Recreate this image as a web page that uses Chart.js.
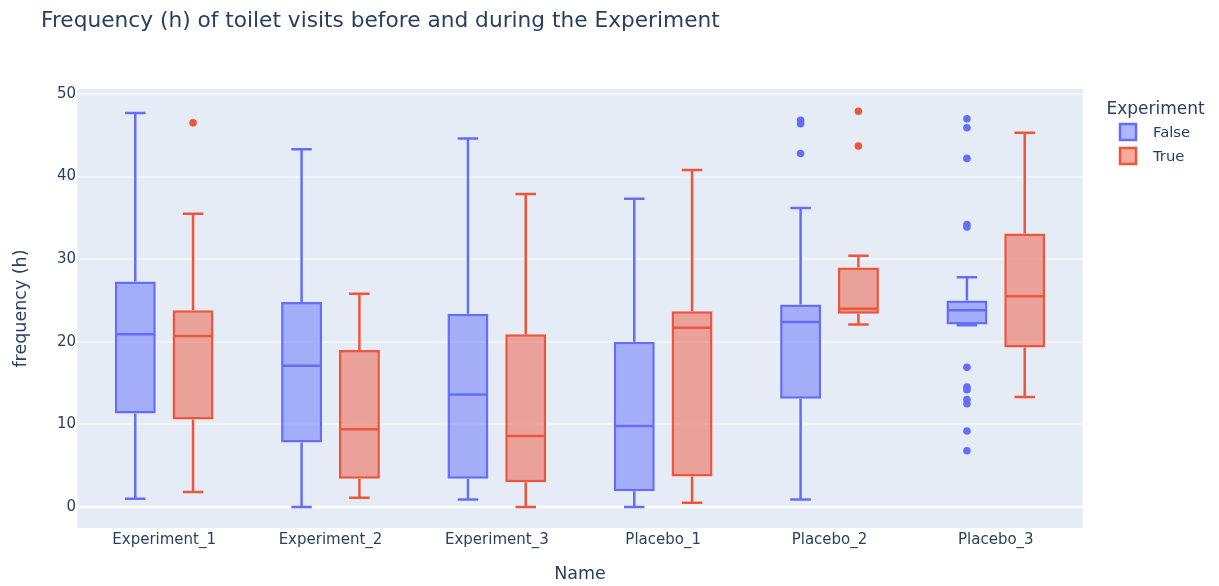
<!DOCTYPE html>
<html>
<head>
<meta charset="utf-8">
<title>Frequency (h) of toilet visits</title>
<script src="https://cdn.jsdelivr.net/npm/chart.js@4.4.1/dist/chart.umd.min.js"></script>
<style>
  html, body { margin: 0; padding: 0; background: #ffffff; }
  canvas { display: block; }
</style>
</head>
<body>
<canvas id="chart" width="1219" height="586"></canvas>
<script>
// Groups along the x axis
const categories = ['Experiment_1', 'Experiment_2', 'Experiment_3', 'Placebo_1', 'Placebo_2', 'Placebo_3'];

// Box statistics for Experiment = False
const lowerFalse  = [1.0, 0.0, 0.9, 0.0, 0.9, 22.0];
const q1False     = [11.3, 7.8, 3.4, 1.9, 13.1, 22.1];
const medianFalse = [20.9, 17.1, 13.6, 9.8, 22.4, 23.8];
const q3False     = [27.3, 24.8, 23.4, 20.0, 24.5, 25.0];
const upperFalse  = [47.7, 43.3, 44.6, 37.3, 36.2, 27.8];
const outliersFalse = [
  [], [], [], [],
  [42.8, 46.4, 46.8],
  [47.0, 45.9, 42.2, 34.2, 33.9, 16.9, 14.5, 14.2, 13.0, 12.5, 9.2, 6.8]
];

// Box statistics for Experiment = True
const lowerTrue  = [1.8, 1.1, 0.0, 0.5, 22.1, 13.3];
const q1True     = [10.6, 3.4, 3.0, 3.7, 23.4, 19.3];
const medianTrue = [20.7, 9.4, 8.6, 21.7, 24.0, 25.5];
const q3True     = [23.8, 19.0, 20.9, 23.7, 29.0, 33.1];
const upperTrue  = [35.5, 25.8, 37.9, 40.8, 30.4, 45.3];
const outliersTrue = [[46.5], [], [], [], [43.7, 47.9], []];

// Value axis ticks
const yTicks = [0, 10, 20, 30, 40, 50];

const TEXT = '#2a3f5f';
const FONT = 'DejaVu Sans';
const BLUE = '#636efa';
const RED = '#ef553b';
const BLUE_FILL = 'rgba(99,110,250,0.5)';
const RED_FILL = 'rgba(239,85,59,0.5)';
const LINE_W = 2.5;

Chart.defaults.font.family = FONT;
Chart.defaults.color = TEXT;

function boxDataset(label, lower, q1, median, q3, upper, outliers, line, fill) {
  return {
    label,
    data: q1.map((v, i) => [v, q3[i]]),
    backgroundColor: fill,
    borderColor: line,
    borderWidth: LINE_W,
    borderSkipped: false,
    inflateAmount: 0,
    categoryPercentage: 0.695,
    barPercentage: 0.709,
    stats: { lower, median, upper, outliers }
  };
}

// Plot background and horizontal grid lines
const plotBackground = {
  id: 'plotBackground',
  beforeDraw(chart) {
    const { ctx, chartArea: a, scales: { y } } = chart;
    ctx.save();
    ctx.fillStyle = '#ffffff';
    ctx.fillRect(0, 0, chart.width, chart.height);
    const left = a.left - 3.7, right = a.right + 3.7;
    ctx.fillStyle = '#e5ecf6';
    ctx.fillRect(left, a.top, right - left, a.bottom - a.top);
    y.ticks.forEach(t => {
      const py = Math.round(y.getPixelForValue(t.value));
      ctx.strokeStyle = '#ffffff';
      ctx.lineWidth = t.value === 0 ? 2.5 : 1.2;
      ctx.beginPath();
      ctx.moveTo(left, py);
      ctx.lineTo(right, py);
      ctx.stroke();
    });
    ctx.restore();
  }
};

// Whiskers, medians and outlier points on top of the boxes
const boxDetails = {
  id: 'boxDetails',
  afterDatasetsDraw(chart) {
    const { ctx, scales: { y } } = chart;
    chart.data.datasets.forEach((ds, d) => {
      const meta = chart.getDatasetMeta(d);
      const s = ds.stats;
      ctx.save();
      ctx.strokeStyle = ds.borderColor;
      ctx.fillStyle = ds.borderColor;
      ctx.lineWidth = LINE_W;
      meta.data.forEach((bar, i) => {
        const x = bar.x, w = bar.width;
        const yq1 = y.getPixelForValue(ds.data[i][0]);
        const yq3 = y.getPixelForValue(ds.data[i][1]);
        const ymed = y.getPixelForValue(s.median[i]);
        const ylo = y.getPixelForValue(s.lower[i]);
        const yhi = y.getPixelForValue(s.upper[i]);
        const cap = w / 4;
        ctx.beginPath();
        // median
        ctx.moveTo(x - w / 2 + 1, ymed);
        ctx.lineTo(x + w / 2 - 1, ymed);
        // upper whisker
        ctx.moveTo(x, yq3);
        ctx.lineTo(x, yhi);
        ctx.moveTo(x - cap, yhi);
        ctx.lineTo(x + cap, yhi);
        // lower whisker
        ctx.moveTo(x, yq1);
        ctx.lineTo(x, ylo);
        ctx.moveTo(x - cap, ylo);
        ctx.lineTo(x + cap, ylo);
        ctx.stroke();
        s.outliers[i].forEach(v => {
          ctx.beginPath();
          ctx.arc(x, y.getPixelForValue(v), 3.8, 0, Math.PI * 2);
          ctx.fill();
        });
      });
      ctx.restore();
    });
  }
};

// Chart title and legend
const annotations = {
  id: 'annotations',
  afterDraw(chart) {
    const { ctx } = chart;
    ctx.save();
    ctx.fillStyle = TEXT;
    ctx.textBaseline = 'alphabetic';
    ctx.textAlign = 'left';
    ctx.font = `21.7px "${FONT}"`;
    ctx.fillText('Frequency (h) of toilet visits before and during the Experiment', 41, 27);

    ctx.font = `17px "${FONT}"`;
    ctx.fillText('Experiment', 1106.5, 113.5);

    chart.data.datasets.forEach((ds, d) => {
      const top = 124 + d * 24;
      ctx.fillStyle = ds.backgroundColor;
      ctx.fillRect(1120, top, 16, 16);
      ctx.strokeStyle = ds.borderColor;
      ctx.lineWidth = LINE_W;
      ctx.strokeRect(1120, top, 16, 16);
      ctx.fillStyle = TEXT;
      ctx.font = `14.8px "${FONT}"`;
      ctx.fillText(ds.label, 1153, top + 13);
    });
    ctx.restore();
  }
};

new Chart(document.getElementById('chart'), {
  type: 'bar',
  data: {
    labels: categories,
    datasets: [
      boxDataset('False', lowerFalse, q1False, medianFalse, q3False, upperFalse, outliersFalse, BLUE, BLUE_FILL),
      boxDataset('True', lowerTrue, q1True, medianTrue, q3True, upperTrue, outliersTrue, RED, RED_FILL)
    ]
  },
  options: {
    responsive: false,
    animation: false,
    events: [],
    layout: { padding: { top: 89, right: 140, left: 0, bottom: 0 } },
    plugins: {
      legend: { display: false },
      tooltip: { enabled: false },
      title: { display: false }
    },
    scales: {
      x: {
        type: 'category',
        grid: { display: false, drawTicks: false },
        border: { display: false },
        ticks: { color: TEXT, font: { size: 15 }, padding: 3, maxRotation: 0, autoSkip: false },
        title: { display: true, text: 'Name', color: TEXT, font: { size: 17.5 }, padding: { top: 0, bottom: 1.5 } },
        afterFit(scale) { scale.height = 58; }
      },
      y: {
        type: 'linear',
        min: -2.55,
        max: 50.6,
        afterBuildTicks(scale) { scale.ticks = yTicks.map(v => ({ value: v })); },
        grid: { display: false, drawTicks: false },
        border: { display: false },
        ticks: { color: TEXT, font: { size: 15 }, padding: 5, includeBounds: false },
        title: { display: true, text: 'frequency (h)', color: TEXT, font: { size: 17.5 }, padding: { top: 10.5, bottom: 0 } },
        afterFit(scale) { scale.width = 81; }
      }
    }
  },
  plugins: [plotBackground, boxDetails, annotations]
});
</script>
</body>
</html>
